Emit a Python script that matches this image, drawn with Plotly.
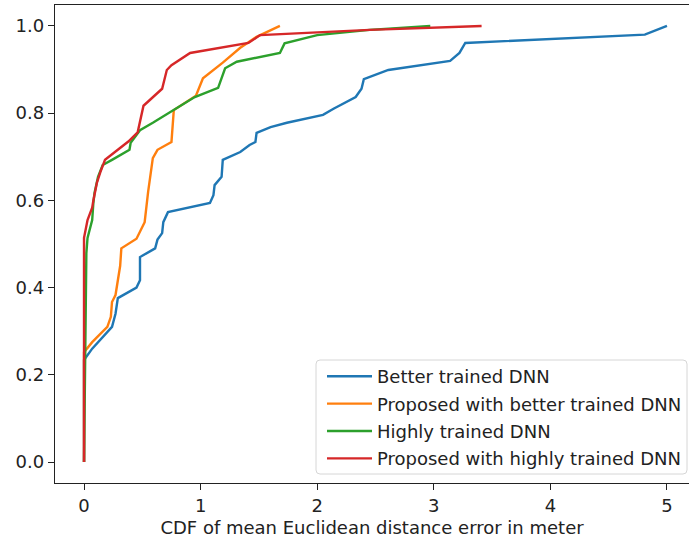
import plotly.graph_objects as go

# Better trained DNN
better_x = [0, 0, 0.07, 0.21, 0.24, 0.27, 0.28, 0.29, 0.45, 0.48, 0.48, 0.61, 0.63, 0.67, 0.68, 0.72,
            1.08, 1.11, 1.12, 1.18, 1.19, 1.34, 1.42, 1.47, 1.48, 1.60, 1.74, 2.05, 2.14, 2.20, 2.33,
            2.38, 2.40, 2.61, 3.14, 3.22, 3.27, 4.81, 5.00]
better_y = [0, 0.234, 0.26, 0.30, 0.31, 0.34, 0.365, 0.376, 0.40, 0.417, 0.47, 0.49, 0.51, 0.525, 0.55, 0.573,
            0.594, 0.612, 0.635, 0.654, 0.693, 0.711, 0.727, 0.734, 0.755, 0.768, 0.778, 0.796, 0.81, 0.819, 0.837,
            0.856, 0.878, 0.899, 0.92, 0.938, 0.961, 0.98, 1.0]

# Proposed with better trained DNN
prop_better_x = [0, 0, 0.07, 0.20, 0.23, 0.24, 0.27, 0.29, 0.31, 0.32, 0.45, 0.52, 0.55, 0.59, 0.63, 0.75,
                 0.77, 0.96, 1.02, 1.19, 1.34, 1.48, 1.68]
prop_better_y = [0, 0.252, 0.275, 0.31, 0.333, 0.367, 0.383, 0.417, 0.45, 0.49, 0.512, 0.55, 0.62, 0.697, 0.716, 0.734,
                 0.807, 0.840, 0.880, 0.916, 0.950, 0.975, 1.0]

# Highly trained DNN
highly_x = [0, 0.02, 0.03, 0.07, 0.08, 0.09, 0.12, 0.16, 0.24, 0.39, 0.40, 0.48, 0.59, 0.78, 0.95, 1.15,
            1.21, 1.31, 1.68, 1.72, 2.00, 2.45, 2.97]
highly_y = [0, 0.479, 0.514, 0.555, 0.594, 0.617, 0.654, 0.681, 0.693, 0.716, 0.732, 0.761, 0.778, 0.81, 0.837, 0.858,
            0.903, 0.918, 0.938, 0.960, 0.979, 0.991, 1.0]

# Proposed with highly trained DNN
prop_highly_x = [0, 0, 0.03, 0.07, 0.08, 0.11, 0.14, 0.18, 0.38, 0.46, 0.51, 0.67, 0.71, 0.75, 0.91, 1.21,
                 1.41, 1.51, 2.00, 2.45, 3.41]
prop_highly_y = [0, 0.514, 0.555, 0.583, 0.60, 0.64, 0.665, 0.693, 0.735, 0.756, 0.817, 0.856, 0.899, 0.91, 0.938, 0.952,
                 0.961, 0.979, 0.986, 0.991, 1.0]

names = ["Better trained DNN", "Proposed with better trained DNN",
         "Highly trained DNN", "Proposed with highly trained DNN"]
colors = ["#1f77b4", "#ff7f0e", "#2ca02c", "#d62728"]
series = [(better_x, better_y), (prop_better_x, prop_better_y),
          (highly_x, highly_y), (prop_highly_x, prop_highly_y)]

x_ticks = [0, 1, 2, 3, 4, 5]
y_ticks = [0.0, 0.2, 0.4, 0.6, 0.8, 1.0]

FONT = "DejaVu Sans"
TXT = "#222222"

W, H = 689, 543
ML, MR, MT, MB = 55, 0, 5, 60
PW, PH = W - ML - MR, H - MT - MB


def px(xp):
    return (xp - ML) / PW


def py(yp):
    return (H - MB - yp) / PH


# rounded legend frame (matplotlib-like), in pixel positions -> paper coords
bx0, bx1, by0, by1, r = 316, 687, 360, 474, 4
frame_path = (
    f"M {px(bx0 + r)} {py(by0)} L {px(bx1 - r)} {py(by0)} "
    f"Q {px(bx1)} {py(by0)} {px(bx1)} {py(by0 + r)} "
    f"L {px(bx1)} {py(by1 - r)} Q {px(bx1)} {py(by1)} {px(bx1 - r)} {py(by1)} "
    f"L {px(bx0 + r)} {py(by1)} Q {px(bx0)} {py(by1)} {px(bx0)} {py(by1 - r)} "
    f"L {px(bx0)} {py(by0 + r)} Q {px(bx0)} {py(by0)} {px(bx0 + r)} {py(by0)} Z"
)

fig = go.Figure()
for i, ((xs, ys), nm, c) in enumerate(zip(series, names, colors)):
    fig.add_trace(go.Scatter(x=xs, y=ys, mode="lines", name=nm, legendgroup=f"g{i}",
                             line=dict(color=c, width=2.4)))

fig.add_shape(type="path", path=frame_path, xref="paper", yref="paper",
              fillcolor="rgba(255,255,255,0.9)", line=dict(color="#d6d6d6", width=1), layer="above")

fig.update_layout(
    width=W, height=H,
    margin=dict(l=ML, r=MR, t=MT, b=MB),
    paper_bgcolor="white", plot_bgcolor="white",
    font=dict(family=FONT, size=18, color=TXT),
    showlegend=True,
    legend=dict(x=px(687), y=py(477), xanchor="right", yanchor="bottom",
                bgcolor="rgba(0,0,0,0)", borderwidth=0, itemwidth=45,
                font=dict(family=FONT, size=18, color=TXT),
                tracegroupgap=1),
    xaxis=dict(range=[-0.249, 5.189], tickvals=x_ticks, ticktext=[str(v) for v in x_ticks],
               showgrid=False, zeroline=False, showline=True, linecolor="#222222", linewidth=1.3,
               mirror=True, ticks="outside", ticklen=6, tickwidth=1.3, tickcolor="#222222",
               title=dict(text="CDF of mean Euclidean distance error in meter", standoff=6,
                          font=dict(family=FONT, size=18, color=TXT))),
    yaxis=dict(range=[-0.048, 1.048], tickvals=y_ticks, ticktext=[f"{v:.1f}" for v in y_ticks],
               showgrid=False, zeroline=False, showline=True, linecolor="#222222", linewidth=1.3,
               ticks="outside", ticklen=6, tickwidth=1.3, tickcolor="#222222"),
)

fig.write_html("out.html")
